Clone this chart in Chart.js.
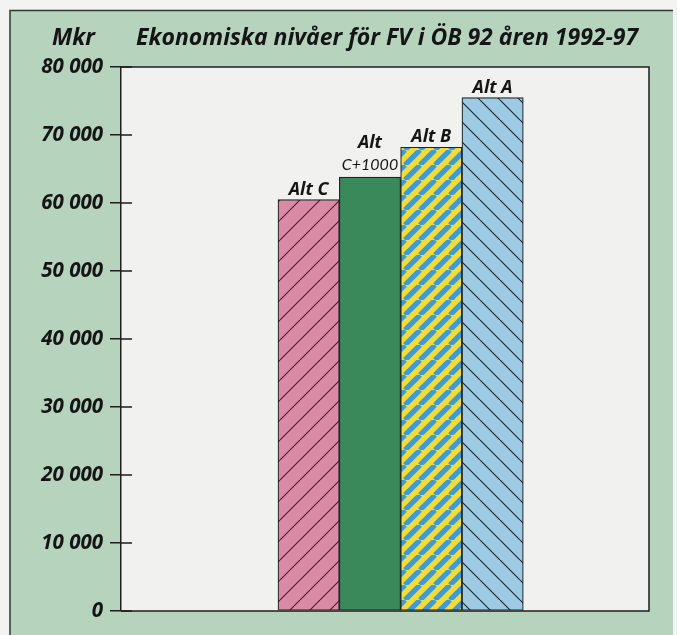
<!DOCTYPE html>
<html>
<head>
<meta charset="utf-8">
<script src="https://cdn.jsdelivr.net/npm/chart.js@4"></script>
<style>
  html, body { margin: 0; padding: 0; background: #f3f3f1; }
  #wrap { width: 677px; height: 635px; }
</style>
</head>
<body>
<div id="wrap"><canvas id="obChart" width="677" height="635"></canvas></div>
<script>
// data (Mkr)
const alternatives = ['Alt C', 'Alt C+1000', 'Alt B', 'Alt A'];
const levels = [60500, 63800, 68200, 75500];
const barLabels = [['Alt C'], ['Alt', 'C+1000'], ['Alt B'], ['Alt A']];
const yTicks = [0, 10000, 20000, 30000, 40000, 50000, 60000, 70000, 80000];

const titleText = 'Ekonomiska nivåer för FV i ÖB 92 åren 1992-97';
const unitText = 'Mkr';

// hatch patterns
function hatch(base, line, size, dir, width) {
    const c = document.createElement('canvas');
    c.width = size; c.height = size;
    const g = c.getContext('2d');
    g.fillStyle = base;
    g.fillRect(0, 0, size, size);
    g.strokeStyle = line;
    g.lineWidth = width;
    g.beginPath();
    for (let k = -1; k <= 1; k++) {
        if (dir > 0) {
            g.moveTo(k * size, size);
            g.lineTo(k * size + size, 0);
        } else {
            g.moveTo(k * size, 0);
            g.lineTo(k * size + size, size);
        }
    }
    g.stroke();
    return g.createPattern(c, 'repeat');
}

const fills = [
    hatch('#d98ba6', '#5a1a35', 20, 1, 1.2),
    '#3a895a',
    hatch('#f2dc3a', '#3f9bd6', 15, 1, 5.2),
    hatch('#9ecbe4', '#1c2a38', 20, -1, 1.2)
];

const fmt = v => String(v).replace(/\B(?=(\d{3})+(?!\d))/g, ' ');

const frame = {
    id: 'frame',
    beforeDraw(chart) {
        const ctx = chart.ctx;
        const a = chart.chartArea;
        ctx.save();
        ctx.fillStyle = '#f3f3f1';
        ctx.fillRect(0, 0, chart.width, chart.height);
        ctx.fillStyle = '#b6d3bd';
        ctx.fillRect(10, 10, 663, 625);
        ctx.strokeStyle = '#2b3a30';
        ctx.lineWidth = 1.5;
        ctx.beginPath();
        ctx.moveTo(10, 635); ctx.lineTo(10, 10.5); ctx.lineTo(673, 10.5);
        ctx.stroke();
        ctx.fillStyle = '#f1f1ef';
        ctx.fillRect(a.left, a.top, a.right - a.left, a.bottom - a.top);
        ctx.strokeStyle = '#1e1e1e';
        ctx.beginPath();
        ctx.moveTo(a.left, a.top); ctx.lineTo(a.right, a.top);
        ctx.lineTo(a.right, a.bottom); ctx.lineTo(a.left, a.bottom);
        ctx.stroke();
        ctx.restore();
    },
    afterDraw(chart) {
        const ctx = chart.ctx;
        const y = chart.scales.y;
        const a = chart.chartArea;
        ctx.save();
        // tick stubs inside the plot
        ctx.strokeStyle = '#1e1e1e';
        ctx.lineWidth = 1.5;
        ctx.beginPath();
        yTicks.forEach(t => {
            const py = y.getPixelForValue(t);
            ctx.moveTo(a.left, py); ctx.lineTo(a.left + 11, py);
        });
        ctx.stroke();

        // labels above bars
        const meta = chart.getDatasetMeta(0);
        ctx.fillStyle = '#151515';
        ctx.textAlign = 'center';
        ctx.textBaseline = 'alphabetic';
        meta.data.forEach((bar, i) => {
            const lines = barLabels[i];
            if (lines.length === 1) {
                ctx.font = 'italic bold 18px "Open Sans"';
                ctx.fillText(lines[0], bar.x, bar.y - 5);
            } else {
                ctx.font = 'italic 16px "Liberation Sans Narrow", Lato';
                ctx.fillText(lines[1], bar.x, bar.y - 7);
                ctx.font = 'italic bold 18px "Open Sans"';
                ctx.fillText(lines[0], bar.x, bar.y - 29);
            }
        });

        // title
        ctx.textAlign = 'left';
        ctx.font = 'italic bold 23px "Open Sans"';
        ctx.fillText(unitText, 52, 45);
        ctx.fillText(titleText, 136, 45);
        ctx.restore();
    }
};

new Chart(document.getElementById('obChart'), {
    type: 'bar',
    data: {
        datasets: [{
            label: 'Mkr',
            data: levels.map((v, i) => ({ x: i, y: v })),
            backgroundColor: fills,
            borderColor: '#222222',
            borderWidth: 1.2,
            borderSkipped: false,
            barPercentage: 1,
            categoryPercentage: 1
        }]
    },
    options: {
        responsive: false,
        animation: false,
        devicePixelRatio: 1,
        layout: { padding: { left: 0, right: 28, top: 67, bottom: 24 } },
        plugins: { legend: { display: false }, tooltip: { enabled: false } },
        scales: {
            x: {
                type: 'linear',
                display: false,
                offset: false,
                min: -3.06,
                max: 5.55,
                ticks: { stepSize: 1, includeBounds: false }
            },
            y: {
                min: 0,
                max: 80000,
                afterFit: s => { s.width = 121; },
                afterBuildTicks: s => { s.ticks = yTicks.map(v => ({ value: v })); },
                ticks: {
                    padding: 7,
                    color: '#151515',
                    font: { family: 'Open Sans', size: 20.5, style: 'italic', weight: 'bold' },
                    callback: v => fmt(v)
                },
                grid: {
                    drawOnChartArea: false,
                    drawTicks: true,
                    tickLength: 11,
                    color: '#1e1e1e',
                    lineWidth: 1.5
                },
                border: { display: true, color: '#1e1e1e', width: 1.5 }
            }
        }
    },
    plugins: [frame]
});
</script>
</body>
</html>
